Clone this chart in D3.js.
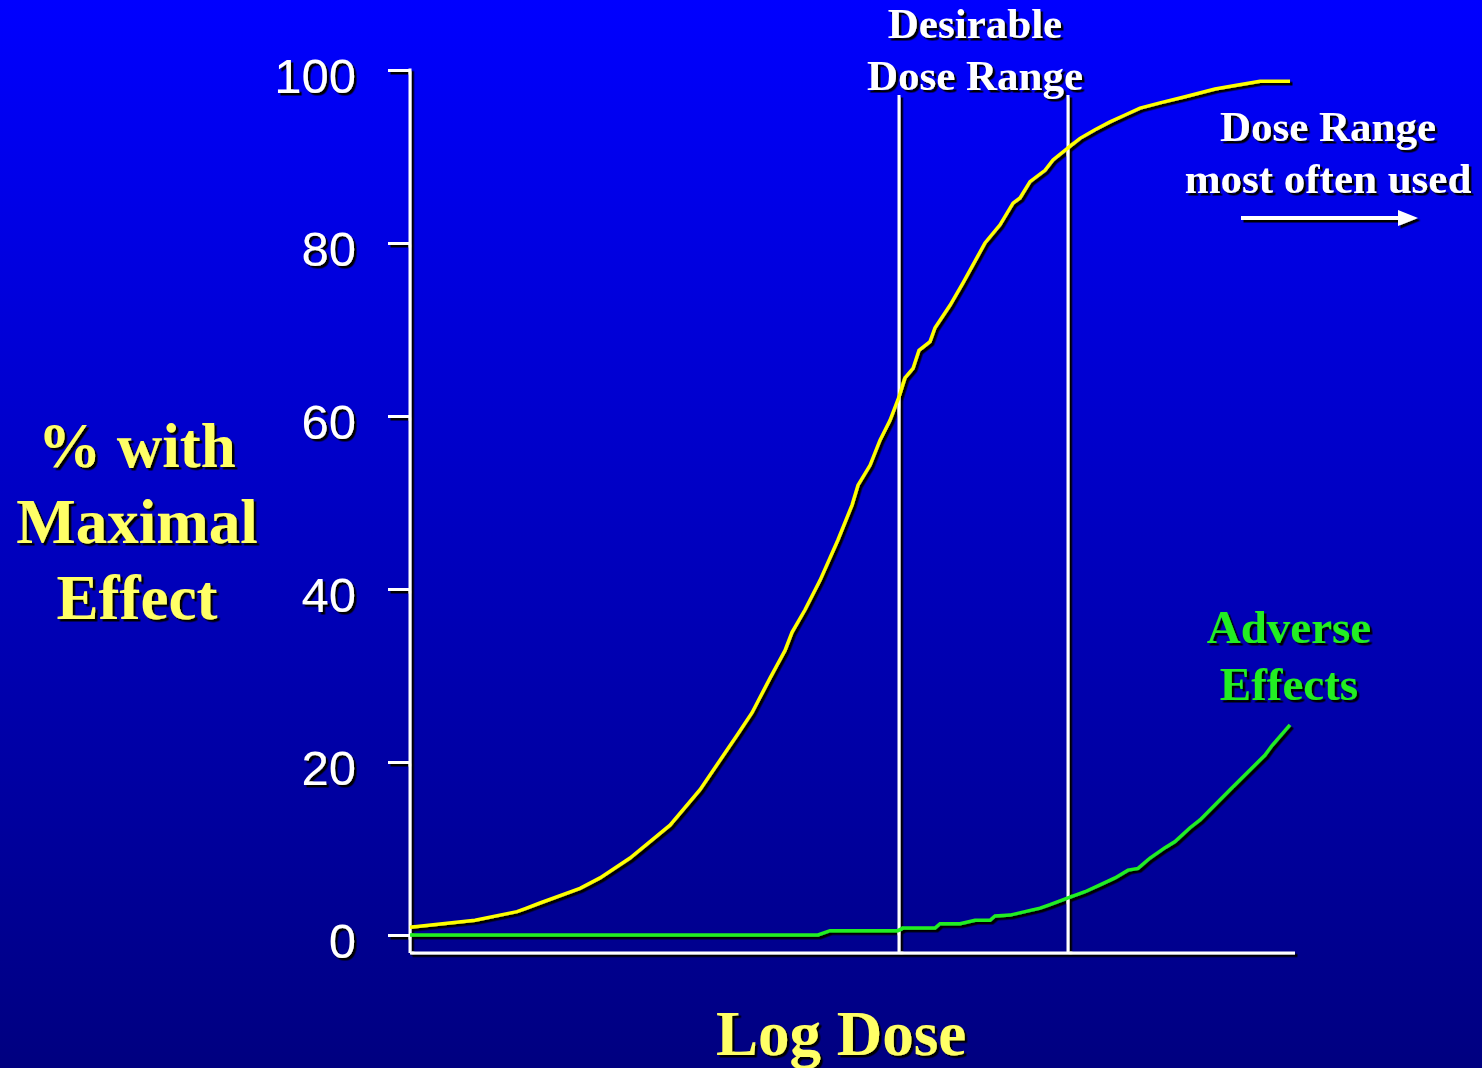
<!DOCTYPE html>
<html>
<head>
<meta charset="utf-8">
<script src="https://cdn.jsdelivr.net/npm/d3@7"></script>
<style>
  html, body { margin: 0; padding: 0; overflow: hidden; }
  svg { display: block; }
</style>
</head>
<body>
<svg></svg>
<script>
// log dose positions (arbitrary units) and % of subjects
let effectDose = [0, 6.5, 10.7, 13, 17, 19, 22, 26, 29, 32.7, 34.2, 36, 37.5, 38.2, 39.5, 41, 42.8, 44.2, 44.8, 46, 47, 48, 48.9, 49.5, 50.3, 50.9, 52, 52.5, 54, 55.3, 57.5, 59, 60.3, 61, 62, 63.5, 64.3, 65.8, 67, 68.5, 70, 71.5, 73, 75, 77.5, 80.5, 82.5, 85, 88]
let effectPct = [0.9, 1.7, 2.7, 3.7, 5.4, 6.6, 8.9, 12.7, 16.8, 23.1, 25.7, 29.7, 32.9, 35.0, 37.6, 41.0, 45.7, 49.7, 52.0, 54.3, 57.2, 59.5, 62.2, 64.4, 65.5, 67.6, 68.6, 70.2, 72.8, 75.4, 80.0, 82.1, 84.6, 85.2, 87.1, 88.4, 89.6, 91.0, 92.1, 93.1, 94.0, 94.8, 95.6, 96.2, 96.9, 97.8, 98.2, 98.7, 98.7]

let adverseDose = [0, 40.8, 42, 48.8, 49.3, 52.5, 53, 55, 56.5, 58, 58.5, 60, 61.5, 63, 64, 65.8, 67.5, 69, 70.5, 71.8, 72.8, 74, 75.5, 76.5, 78, 79, 82, 85.5, 86.2, 88]
let adversePct = [0, 0, 0.5, 0.5, 0.8, 0.8, 1.3, 1.3, 1.7, 1.7, 2.2, 2.3, 2.7, 3.1, 3.5, 4.3, 5.0, 5.8, 6.6, 7.5, 7.7, 8.9, 10.1, 10.8, 12.4, 13.3, 16.8, 20.8, 21.9, 24.3]

let desirableRange = [48.9, 65.8]
let yTicks = [0, 20, 40, 60, 80, 100]

let width = 1482
let height = 1068

let svg = d3.select('svg')
  .attr('width', width)
  .attr('height', height)

let defs = svg.append('defs')

let grad = defs.append('linearGradient')
  .attr('id', 'bg')
  .attr('x1', 0).attr('y1', 0)
  .attr('x2', 0).attr('y2', 1)
grad.append('stop').attr('offset', '0%').attr('stop-color', '#0000ff')
grad.append('stop').attr('offset', '100%').attr('stop-color', '#000080')

defs.append('filter')
  .attr('id', 'shadow')
  .attr('x', '-10%').attr('y', '-10%')
  .attr('width', '120%').attr('height', '120%')
  .append('feDropShadow')
  .attr('dx', 2.5).attr('dy', 2.5)
  .attr('stdDeviation', 0)
  .attr('flood-color', '#000')
  .attr('flood-opacity', 1)

svg.append('rect')
  .attr('width', width)
  .attr('height', height)
  .attr('fill', 'url(#bg)')

let xScale = d3.scaleLinear()
  .domain([0, 88.5])
  .range([410, 1295])

let yScale = d3.scaleLinear()
  .domain([0, 100])
  .range([935, 70])

let chart = svg.append('g').attr('filter', 'url(#shadow)')

// y axis
let yAxis = d3.axisLeft(yScale)
  .tickValues(yTicks)
  .tickSize(22)
  .tickPadding(32)

let yAxisG = chart.append('g')
  .attr('transform', 'translate(410, 0)')
  .call(yAxis)

yAxisG.select('.domain').remove()
yAxisG.selectAll('.tick line')
  .attr('stroke', '#fff')
  .attr('stroke-width', 3)
yAxisG.selectAll('.tick text')
  .attr('fill', '#fff')
  .attr('dy', '0.45em')
  .style('font-family', '"Liberation Sans", Arial, sans-serif')
  .style('font-size', '49px')

chart.append('line')
  .attr('x1', 410).attr('x2', 410)
  .attr('y1', yScale(100) - 1.5).attr('y2', 953)
  .attr('stroke', '#fff')
  .attr('stroke-width', 3)

chart.append('line')
  .attr('x1', 410).attr('x2', xScale(88.5))
  .attr('y1', 953).attr('y2', 953)
  .attr('stroke', '#fff')
  .attr('stroke-width', 3)

// desirable dose range markers
chart.selectAll('.range-line')
  .data(desirableRange)
  .enter()
  .append('line')
  .attr('class', 'range-line')
  .attr('x1', (d) => { return xScale(d) })
  .attr('x2', (d) => { return xScale(d) })
  .attr('y1', 95)
  .attr('y2', 953)
  .attr('stroke', '#fff')
  .attr('stroke-width', 3)

let line = d3.line()
  .x((d) => { return xScale(d[0]) })
  .y((d) => { return yScale(d[1]) })

chart.append('path')
  .datum(d3.zip(adverseDose, adversePct))
  .attr('d', line)
  .attr('fill', 'none')
  .attr('stroke', '#22ee22')
  .attr('stroke-width', 3.5)

chart.append('path')
  .datum(d3.zip(effectDose, effectPct))
  .attr('d', line)
  .attr('fill', 'none')
  .attr('stroke', '#ffff00')
  .attr('stroke-width', 3.5)

// labels
let serif = '"Liberation Serif", "Times New Roman", serif'

let addText = (lines, x, y0, step, size, color) => {
  let t = chart.append('text')
    .attr('text-anchor', 'middle')
    .style('font-family', serif)
    .style('font-weight', 'bold')
    .style('font-size', size + 'px')
    .attr('fill', color)
  lines.forEach((s, i) => {
    t.append('tspan')
      .attr('x', x)
      .attr('y', y0 + i * step)
      .text(s)
  })
}

addText(['% with', 'Maximal', 'Effect'], 137, 467, 76, 63, '#ffff66')
addText(['Log Dose'], 841, 1055, 0, 63, '#ffff66')
addText(['Desirable', 'Dose Range'], 975, 38, 52, 43, '#ffffff')
addText(['Dose Range', 'most often used'], 1328, 141, 52, 43, '#ffffff')
addText(['Adverse', 'Effects'], 1289, 643, 57, 47, '#22ee22')

// arrow
chart.append('line')
  .attr('x1', 1241).attr('x2', 1400)
  .attr('y1', 218).attr('y2', 218)
  .attr('stroke', '#fff')
  .attr('stroke-width', 4)

chart.append('path')
  .attr('d', 'M1398,210 L1418,218 L1398,226 Z')
  .attr('fill', '#fff')
</script>
</body>
</html>
